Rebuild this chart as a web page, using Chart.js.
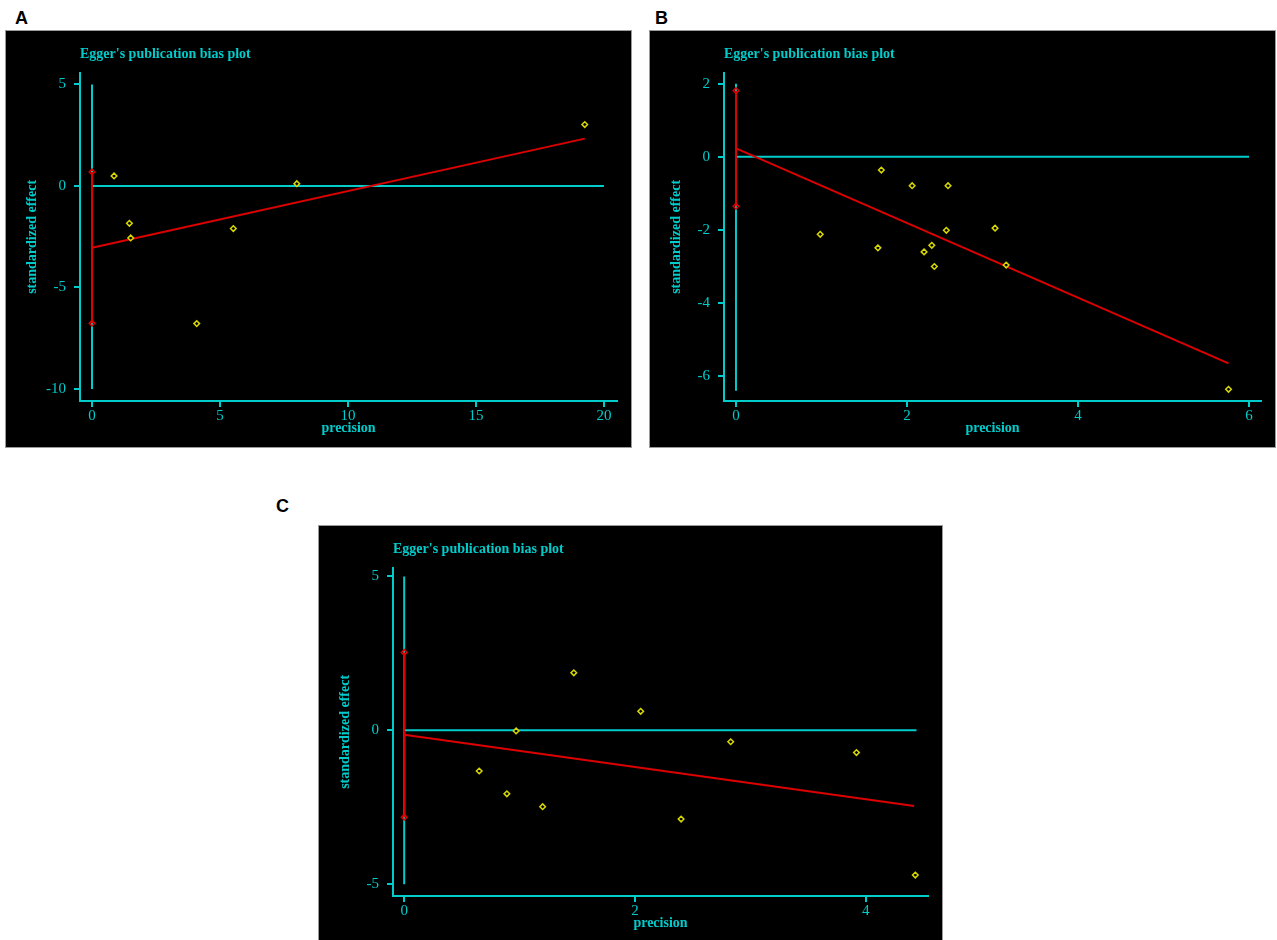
<!DOCTYPE html>
<html>
<head>
<meta charset="utf-8">
<script src="https://cdn.jsdelivr.net/npm/chart.js@4/dist/chart.umd.min.js"></script>
<style>
  body { margin: 0; background: #fff; overflow: hidden; width: 1277px; height: 940px; position: relative; }
  .lbl { position: absolute; font: bold 18px "Liberation Sans", Arial, sans-serif; line-height: 18px; color: #000; }
  .box { position: absolute; border: 1px solid #9a9a9a; background: #000; }
  canvas { display: block; background: #000; }
</style>
</head>
<body>
<div class="lbl" style="left:15px; top:9px;">A</div>
<div class="lbl" style="left:655px; top:9px;">B</div>
<div class="lbl" style="left:276px; top:497px;">C</div>

<div class="box" style="left:5px; top:30px;"><canvas id="chartA" width="625" height="416"></canvas></div>
<div class="box" style="left:649px; top:30px;"><canvas id="chartB" width="625" height="416"></canvas></div>
<div class="box" style="left:318px; top:525px;"><canvas id="chartC" width="623" height="416"></canvas></div>

<script>
// ---- panel A ----
const aPrecision = [0.86, 1.46, 1.51, 4.09, 5.52, 8.0, 19.25];
const aEffect    = [0.49, -1.84, -2.56, -6.78, -2.10, 0.11, 3.02];
const aFitX = [0, 19.25];
const aFitY = [-3.04, 2.33];
const aCi = [0.69, -6.76];
const aZeroV = [5, -10];
const aZeroH = [0, 20];
const aXTicks = [0, 5, 10, 15, 20];
const aYTicks = [5, 0, -5, -10];
const aXRange = [-0.47, 20.51];
const aYRange = [-10.59, 5.57];

// ---- panel B ----
const bPrecision = [0.985, 1.66, 1.70, 2.06, 2.20, 2.29, 2.32, 2.46, 2.48, 3.03, 3.16, 5.76];
const bEffect    = [-2.12, -2.49, -0.36, -0.79, -2.60, -2.42, -3.00, -2.01, -0.79, -1.95, -2.96, -6.36];
const bFitX = [0, 5.76];
const bFitY = [0.23, -5.65];
const bCi = [1.81, -1.35];
const bZeroV = [2, -6.4];
const bZeroH = [0, 6];
const bXTicks = [0, 2, 4, 6];
const bYTicks = [2, 0, -2, -4, -6];
const bXRange = [-0.14, 6.14];
const bYRange = [-6.68, 2.30];

// ---- panel C ----
const cPrecision = [0.65, 0.89, 0.97, 1.20, 1.47, 2.05, 2.40, 2.83, 3.92, 4.43];
const cEffect    = [-1.32, -2.06, -0.02, -2.48, 1.87, 0.62, -2.88, -0.37, -0.72, -4.70];
const cFitX = [0, 4.42];
const cFitY = [-0.14, -2.46];
const cCi = [2.53, -2.82];
const cZeroV = [5, -5];
const cZeroH = [0, 4.44];
const cXTicks = [0, 2, 4];
const cYTicks = [5, 0, -5];
const cXRange = [-0.097, 4.54];
const cYRange = [-5.38, 5.28];

const CYAN = '#00cccc';
const RED = '#dd0000';
const YELLOW = '#d8d800';
const SERIF = '"Liberation Serif", "Times New Roman", serif';

function makePanel(id, p) {
    const points = p.x.map((v, i) => ({ x: v, y: p.y[i] }));
    const ctx = document.getElementById(id).getContext('2d');

    new Chart(ctx, {
        type: 'scatter',
        data: {
            datasets: [
                {
                    data: points,
                    pointStyle: 'rectRot',
                    pointRadius: 2.8,
                    borderColor: YELLOW,
                    backgroundColor: '#000',
                    borderWidth: 1.5,
                    order: 0
                },
                {
                    // confidence interval of the intercept
                    data: [{ x: 0, y: p.ci[0] }, { x: 0, y: p.ci[1] }],
                    showLine: true,
                    borderColor: RED,
                    borderWidth: 2,
                    pointStyle: 'rectRot',
                    pointRadius: 2.8,
                    pointBorderColor: RED,
                    pointBackgroundColor: 'rgba(0,0,0,0)',
                    pointBorderWidth: 1.5,
                    order: 1
                },
                {
                    // regression line
                    data: [{ x: p.fitX[0], y: p.fitY[0] }, { x: p.fitX[1], y: p.fitY[1] }],
                    showLine: true,
                    borderColor: RED,
                    borderWidth: 2,
                    pointRadius: 0,
                    order: 1
                },
                {
                    data: [{ x: 0, y: p.zeroV[0] }, { x: 0, y: p.zeroV[1] }],
                    showLine: true,
                    borderColor: CYAN,
                    borderWidth: 2,
                    pointRadius: 0,
                    order: 2
                },
                {
                    data: [{ x: p.zeroH[0], y: 0 }, { x: p.zeroH[1], y: 0 }],
                    showLine: true,
                    borderColor: CYAN,
                    borderWidth: 2,
                    pointRadius: 0,
                    order: 2
                }
            ]
        },
        options: {
            responsive: false,
            animation: false,
            layout: { padding: { left: 0, right: 14, top: 0, bottom: 0 } },
            plugins: {
                legend: { display: false },
                tooltip: { enabled: false },
                title: {
                    display: true,
                    text: "Egger's publication bias plot",
                    align: 'start',
                    fullSize: false,
                    color: CYAN,
                    font: { family: SERIF, size: 14, weight: 'bold' },
                    padding: { top: 15, bottom: 10 }
                }
            },
            scales: {
                x: {
                    type: 'linear',
                    min: p.xRange[0],
                    max: p.xRange[1],
                    afterBuildTicks: s => { s.ticks = p.xTicks.map(v => ({ value: v })); },
                    afterFit: s => { s.height = 46; },
                    grid: { drawOnChartArea: false, color: CYAN, lineWidth: 2, tickLength: 6 },
                    border: { color: CYAN, width: 2 },
                    ticks: { color: CYAN, padding: 0, font: { family: SERIF, size: 15 } },
                    title: {
                        display: true,
                        text: 'precision',
                        color: CYAN,
                        font: { family: SERIF, size: 14, weight: 'bold' },
                        padding: { top: 0, bottom: 10 }
                    }
                },
                y: {
                    type: 'linear',
                    min: p.yRange[0],
                    max: p.yRange[1],
                    afterBuildTicks: s => { s.ticks = p.yTicks.map(v => ({ value: v })); },
                    afterFit: s => { s.width = 74; },
                    grid: { drawOnChartArea: false, color: CYAN, lineWidth: 2, tickLength: 6 },
                    border: { color: CYAN, width: 2 },
                    ticks: { color: CYAN, padding: 8, font: { family: SERIF, size: 15 } },
                    title: {
                        display: true,
                        text: 'standardized effect',
                        color: CYAN,
                        font: { family: SERIF, size: 14, weight: 'bold' },
                        padding: { top: 18, bottom: 0 }
                    }
                }
            }
        }
    });
}

makePanel('chartA', {
    x: aPrecision, y: aEffect, fitX: aFitX, fitY: aFitY, ci: aCi,
    zeroV: aZeroV, zeroH: aZeroH, xTicks: aXTicks, yTicks: aYTicks, xRange: aXRange, yRange: aYRange
});
makePanel('chartB', {
    x: bPrecision, y: bEffect, fitX: bFitX, fitY: bFitY, ci: bCi,
    zeroV: bZeroV, zeroH: bZeroH, xTicks: bXTicks, yTicks: bYTicks, xRange: bXRange, yRange: bYRange
});
makePanel('chartC', {
    x: cPrecision, y: cEffect, fitX: cFitX, fitY: cFitY, ci: cCi,
    zeroV: cZeroV, zeroH: cZeroH, xTicks: cXTicks, yTicks: cYTicks, xRange: cXRange, yRange: cYRange
});
</script>
</body>
</html>
